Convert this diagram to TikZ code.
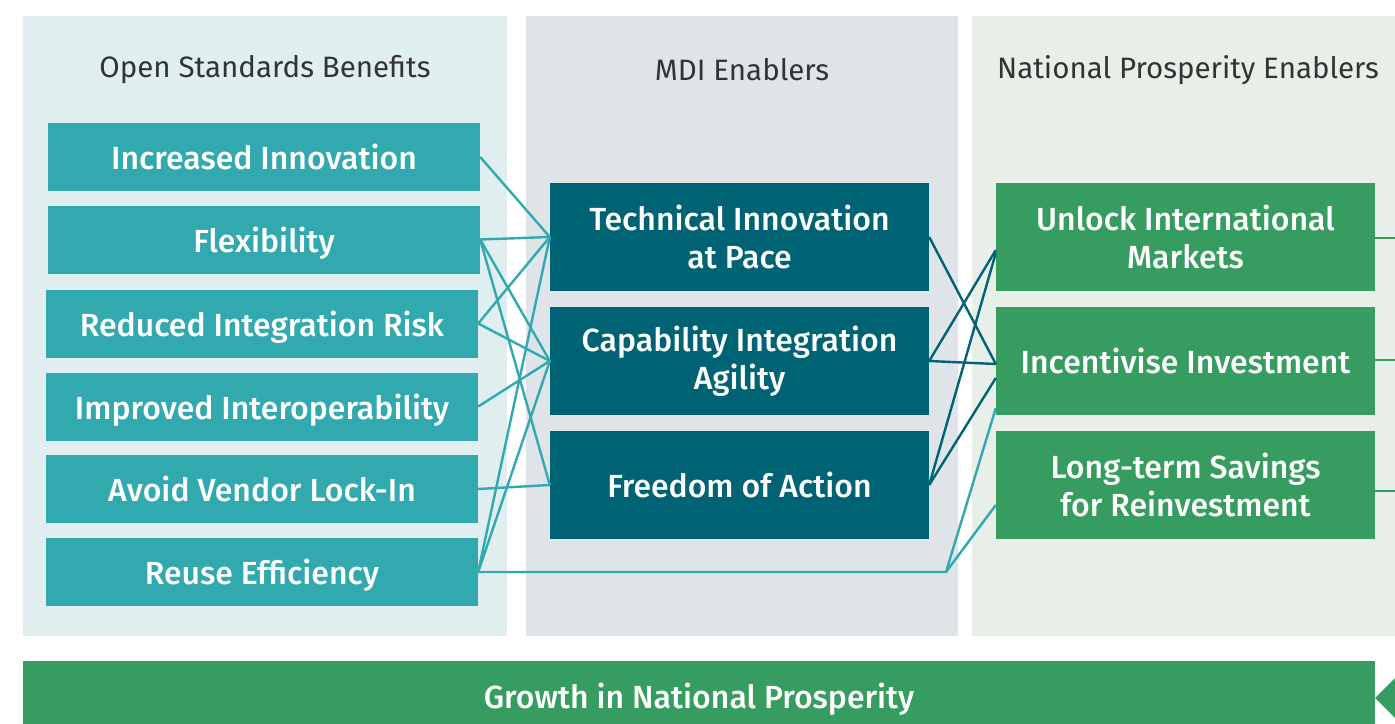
\documentclass[tikz,border=0pt]{standalone}
\usepackage{fontspec}
\setmainfont{Fira Sans}
\newfontfamily\medfont{Fira Sans Medium}
\usetikzlibrary{calc}
\definecolor{tealbox}{RGB}{49,169,174}
\definecolor{darkbox}{RGB}{0,99,116}
\definecolor{greenbox}{RGB}{54,156,95}
\definecolor{panelA}{RGB}{224,238,239}
\definecolor{panelB}{RGB}{223,228,232}
\definecolor{panelC}{RGB}{231,239,232}
\definecolor{titlegray}{RGB}{51,51,51}
\begin{document}
\begin{tikzpicture}[x=1pt,y=-1pt,
  boxtext/.style={text=white, inner sep=0pt, align=center, font={\medfont\fontsize{32}{38}\selectfont}},
  oneline/.style={text height=25pt, text depth=0pt},
  osb/.style={boxtext, oneline, fill=tealbox, minimum width=432pt, minimum height=68pt},
  mdi/.style={boxtext, fill=darkbox, minimum width=379pt, minimum height=108pt},
  npe/.style={boxtext, fill=greenbox, minimum width=379pt, minimum height=108pt},
  coltitle/.style={text=titlegray, inner sep=0pt, font={\fontsize{29.5}{34}\selectfont}},
  tealline/.style={draw=tealbox, line width=2.4pt},
  darkline/.style={draw=darkbox, line width=2.4pt},
  greenline/.style={draw=greenbox, line width=2.4pt}]
\useasboundingbox (0,0) rectangle (1395,723);
\clip (0,0) rectangle (1395,723);
\fill[white] (0,0) rectangle (1395,723);
% panels
\fill[panelA] (23,16) rectangle (507,636);
\fill[panelB] (526,16) rectangle (958,636);
\fill[panelC] (972,16) rectangle (1420,636);
\node[coltitle] (t1) at (265,70) {Open Standards Benefits};
\node[coltitle] (t2) at (742,70) {MDI Enablers};
\node[coltitle] (t3) at (1188,70) {National Prosperity Enablers};
% left boxes
\node[osb] (b1) at (264,157) {Increased Innovation};
\node[osb] (b2) at (264,239.5) {Flexibility};
\node[osb] (b3) at (262,323.5) {Reduced Integration Risk};
\node[osb] (b4) at (262,406.5) {Improved Interoperability};
\node[osb] (b5) at (262,489) {Avoid Vendor Lock-In};
\node[osb] (b6) at (262,572) {Reuse Efficiency};
% middle boxes
\node[mdi] (m1) at (739.5,237) {Technical Innovation\\at Pace};
\node[mdi] (m2) at (739.5,361) {Capability Integration\\Agility};
\node[mdi, oneline] (m3) at (739.5,485) {Freedom of Action};
% right boxes
\node[npe] (n1) at (1185.5,237) {Unlock International\\Markets};
\node[npe, oneline] (n2) at (1185.5,361) {Incentivise Investment};
\node[npe] (n3) at (1185.5,485) {Long-term Savings\\for Reinvestment};
% left connectors
\draw[tealline] (b1.east) -- (m1.west);
\draw[tealline] (b2.east) -- (m1.west);
\draw[tealline] (b2.east) -- (m2.west);
\draw[tealline] (b2.east) -- (m3.west);
\draw[tealline] (b3.east) -- (m1.west);
\draw[tealline] (b3.east) -- (m2.west);
\draw[tealline] (b4.east) -- (m2.west);
\draw[tealline] (b5.east) -- (m3.west);
\draw[tealline] (b6.east) -- (m1.west);
\draw[tealline] (b6.east) -- (m2.west);
\coordinate (rj) at (946,572);
\draw[tealline, line join=round] (b6.east) -- (rj) -- ($(n2.west)+(0,47)$);
\draw[tealline, line join=round] (rj) -- ($(n3.west)+(0,20)$);
% middle connectors
\draw[darkline] (m1.east) -- ($(n2.west)+(0,3)$);
\draw[darkline] (m2.east) -- ($(n1.west)+(0,13)$);
\draw[darkline] (m2.east) -- ($(n2.west)+(0,3)$);
\draw[darkline] (m3.east) -- ($(n1.west)+(0,16)$);
\draw[darkline] (m3.east) -- ($(n2.west)+(0,17)$);
% right stubs
\coordinate (r1) at (1400,238);
\coordinate (r2) at (1400,360);
\coordinate (r3) at (1400,491);
\draw[greenline] (n1.east |- r1) -- (r1);
\draw[greenline] (n2.east |- r2) -- (r2);
\draw[greenline] (n3.east |- r3) -- (r3);
% bottom bar
\node[boxtext, oneline, fill=greenbox, minimum width=1352pt, minimum height=70pt] (g) at (699,696) {Growth in National Prosperity};
\coordinate (tip) at (1375,698);
\fill[greenbox] (tip) -- (1400,673) -- (1400,723) -- cycle;
\end{tikzpicture}
\end{document}
